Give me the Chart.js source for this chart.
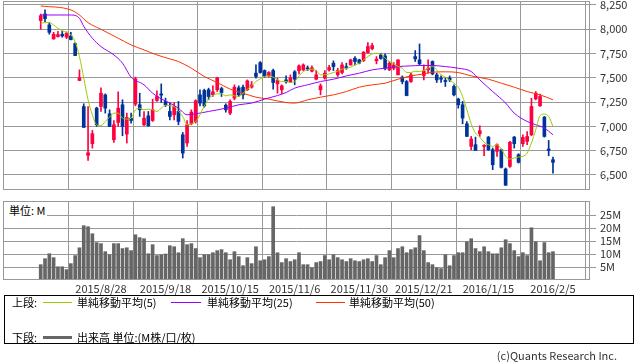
<!DOCTYPE html>
<html>
<head>
<meta charset="utf-8">
<script src="https://cdn.jsdelivr.net/npm/chart.js@4.4.1/dist/chart.umd.min.js"></script>
<style>
  body { margin: 0; width: 638px; height: 362px; background: #fff; position: relative; overflow: hidden;
         font-family: "Noto Sans CJK JP", "Noto Sans", sans-serif; font-size: 11px; color: #000; }
  canvas { position: absolute; left: 0; }
  #pc { top: 0; }
  #vc { top: 196px; }
  .t { position: absolute; line-height: 14px; white-space: nowrap; }
  .ln { position: absolute; }
  #unit { position: absolute; left: 4px; top: 202px; width: 43px; height: 16px; background: #fff;
          line-height: 16px; padding-left: 5px; box-sizing: border-box; }
  #box { position: absolute; left: 4px; top: 295px; width: 630px; height: 49px; border: 1px solid #000; box-sizing: border-box; }
</style>
</head>
<body>
<canvas id="pc" width="638" height="192"></canvas>
<canvas id="vc" width="638" height="100"></canvas>
<div id="unit">単位: M</div>

<div id="box"></div>
<div class="t" style="left:12px;top:295px">上段:</div>
<div class="ln" style="left:43px;top:302px;width:29px;height:1px;background:#99cc00"></div>
<div class="t" style="left:77px;top:295px">単純移動平均(5)</div>
<div class="ln" style="left:171px;top:302px;width:30px;height:1px;background:#9900ff"></div>
<div class="t" style="left:207px;top:295px">単純移動平均(25)</div>
<div class="ln" style="left:316px;top:302px;width:29px;height:1px;background:#ff3300"></div>
<div class="t" style="left:349px;top:295px">単純移動平均(50)</div>
<div class="t" style="left:12px;top:330px">下段:</div>
<div class="ln" style="left:43px;top:336px;width:29px;height:3px;background:#666"></div>
<div class="t" style="left:77px;top:330px">出来高 単位:(M株/口/枚)</div>
<div class="t" style="right:21px;top:348px;color:#333">(c)Quants Research Inc.</div>

<script>
// daily candles, index 0 = 2015/8/10 ... 119 = 2016/2/5
const open = [8089,8157,8045,7901,7925,7949,7918,7931,7853,7473,7205,6702,6822,7188,7205,7325,7130,6863,7041,7223,
  6921,7085,7229,7223,7017,7109,7061,7267,7335,7257,7154,7120,7154,6914,6829,7027,7051,7325,7370,7377,
  7325,7377,7390,7219,7137,7291,7397,7404,7377,7404,7548,7657,7575,7520,7575,7438,7377,7479,7459,7562,
  7575,7582,7603,7568,7486,7377,7497,7582,7651,7531,7555,7616,7633,7702,7685,7678,7760,7801,7675,7736,
  7726,7582,7599,7531,7507,7462,7462,7719,7685,7524,7582,7668,7531,7497,7473,7497,7411,7281,7223,7027,
  6794,6812,6925,6794,6890,6760,6743,6760,6562,6589,6890,6709,6822,6846,6914,7284,7212,7096,6767,6657];
const high = [8157,8199,8068,7969,7979,7979,7973,7969,7863,7582,7233,7205,6959,7198,7397,7335,7171,7061,7356,7274,
  7137,7137,7507,7342,7154,7154,7281,7366,7438,7291,7246,7246,7257,6938,7061,7171,7274,7377,7384,7394,
  7418,7507,7404,7233,7274,7428,7418,7425,7479,7462,7633,7668,7582,7565,7589,7497,7428,7520,7531,7575,
  7633,7644,7623,7623,7575,7438,7575,7630,7675,7599,7657,7651,7692,7719,7692,7771,7863,7856,7719,7753,
  7747,7668,7657,7685,7520,7473,7548,7781,7849,7634,7685,7675,7548,7520,7497,7520,7428,7291,7257,7051,
  6897,6890,7007,6812,6897,6777,6822,6767,6572,6846,6897,6719,6914,6948,7291,7359,7332,7103,6856,6685];
const low = [8000,8079,7949,7897,7918,7918,7904,7890,7729,7470,6990,6650,6777,7000,7154,7137,7000,6836,7000,6904,
  6829,7034,7212,7103,7007,7000,7051,7257,7246,7205,7068,7068,7017,6675,6794,7017,7034,7212,7198,7274,
  7308,7359,7308,7147,7120,7274,7308,7284,7370,7394,7497,7548,7507,7507,7384,7342,7335,7445,7452,7428,
  7541,7575,7575,7562,7479,7325,7486,7568,7575,7514,7541,7589,7630,7633,7644,7668,7753,7788,7644,7692,
  7582,7575,7582,7531,7438,7315,7452,7668,7633,7479,7548,7531,7452,7452,7411,7462,7315,7188,7027,6897,
  6760,6753,6897,6698,6753,6555,6692,6572,6394,6579,6777,6623,6794,6812,6904,7274,7205,6890,6698,6520];
const close = [8140,8110,7969,7949,7945,7931,7959,7894,7729,7500,6990,6729,6925,7017,7342,7188,7000,7017,7188,7000,
  7092,7061,7490,7171,7085,7007,7171,7308,7322,7223,7103,7205,7051,6726,7017,7147,7264,7240,7212,7308,
  7356,7500,7349,7171,7257,7404,7325,7325,7469,7428,7514,7555,7520,7555,7452,7473,7418,7459,7500,7486,
  7623,7633,7592,7603,7531,7418,7548,7606,7616,7575,7633,7603,7685,7668,7651,7764,7822,7832,7692,7699,
  7599,7651,7633,7685,7462,7318,7531,7695,7644,7572,7599,7541,7479,7486,7462,7479,7325,7223,7086,6897,
  6870,6753,6955,6805,6760,6606,6812,6579,6394,6836,6822,6630,6887,6897,7205,7342,7308,6897,6753,6630];
// volume, millions
const volume = [5.9,8.2,10.1,8.6,5.1,5.1,4.0,6.3,9.4,12.4,20.9,20.5,17.8,14.4,14.0,10.9,9.7,14.0,14.0,12.1,
  12.4,11.3,17.4,16.3,15.9,10.1,13.6,9.4,9.7,10.0,13.2,12.8,10.5,15.9,13.6,14.0,12.1,8.6,9.7,9.7,
  10.5,11.3,11.7,10.5,7.8,10.9,9.0,5.5,8.6,6.3,12.8,7.4,7.8,9.0,28.2,10.5,6.7,8.2,7.1,7.8,
  10.5,5.9,5.9,4.7,6.7,7.1,9.4,7.8,9.7,8.6,7.8,7.1,8.2,7.4,7.1,7.8,8.2,7.1,9.4,5.9,
  8.6,11.3,8.6,12.1,12.8,10.5,11.7,12.4,17.1,11.3,6.7,5.9,4.7,4.4,9.7,5.5,9.4,10.5,10.5,14.7,
  15.9,12.1,10.9,12.8,10.9,10.1,10.1,12.4,15.5,14.0,11.3,9.0,10.5,9.4,20.1,14.7,7.4,14.4,10.5,10.9];
// moving averages
const ma5 = [8062,8068,8068,8045,8010,7986,7969,7942,7873,7719,7497,7274,7120,7017,7007,7051,7096,7137,7137,7085,
  7075,7085,7171,7188,7171,7178,7171,7154,7188,7218,7212,7205,7154,7103,7017,7027,7051,7120,7212,7281,
  7318,7335,7335,7315,7325,7315,7308,7342,7384,7418,7462,7490,7514,7520,7507,7479,7462,7462,7452,7462,
  7520,7565,7582,7589,7575,7531,7531,7541,7555,7568,7589,7599,7610,7633,7651,7685,7719,7747,7753,7747,
  7702,7668,7644,7616,7599,7555,7555,7568,7565,7575,7599,7616,7582,7531,7507,7479,7445,7404,7308,7171,
  7027,6931,6890,6836,6812,6794,6812,6767,6692,6664,6675,6685,6692,6726,6829,6966,7110,7127,7103,6999];
const ma25Day = [0,7,9,10,12,14,17,19,21,24,26,28,30,32,34,36,39,43,46,49,52,55,57,59,62,65,68,71,74,77,80,83,86,88,91,94,97,100,102,105,108,110,113,115,117,119];
const ma25 = [8147,8147,8113,8030,7908,7822,7736,7651,7507,7428,7342,7284,7240,7188,7120,7130,7154,7188,7223,7240,7281,7318,7349,7394,7428,7462,7486,7520,7548,7582,7599,7616,7623,7627,7627,7616,7599,7565,7479,7359,7240,7137,7051,7017,6983,6914];
const ma50Day = [0,7,9,11,14,18,21,24,27,30,32,35,38,41,44,47,50,53,57,59,62,65,68,71,74,77,80,83,86,89,91,94,97,100,104,107,110,113,116,119];
const ma50 = [8240,8199,8147,8068,8000,7908,7839,7788,7736,7695,7668,7599,7514,7452,7384,7342,7301,7281,7246,7240,7274,7301,7325,7359,7404,7428,7445,7486,7520,7541,7558,7562,7555,7520,7486,7445,7404,7359,7325,7274];

const tickDay = [14,29,44,59,74,89,104,119];
const tickLabels = ['2015/8/28','2015/9/18','2015/10/15','2015/11/6','2015/11/30','2015/12/21','2016/1/15','2016/2/5'];
const priceTicks = [6500,6750,7000,7250,7500,7750,8000,8250];
const volTicks = [5,10,15,20,25];

const UP = '#ff0040', DOWN = '#003399', GRID = '#999';
const FONT = { family: '"Noto Sans CJK JP", "Noto Sans", sans-serif', size: 11 };
const xMin = -8.76, xMax = 127.6;

const frame = {
  id: 'frame',
  afterDatasetsDraw(chart) {
    const a = chart.chartArea, ctx = chart.ctx;
    ctx.save();
    ctx.strokeStyle = GRID;
    ctx.lineWidth = 1;
    ctx.strokeRect(Math.round(a.left) + 0.5, Math.round(a.top) + 0.5,
      Math.round(a.right - a.left) - 1, Math.round(a.bottom - a.top) - 1);
    ctx.restore();
  }
};

// keep tick labels from pushing the plot area around
function noPad(s) {
  s.paddingTop = 0; s.paddingBottom = 0; s.paddingLeft = 0; s.paddingRight = 0;
}

function xScale(showLabels) {
  return {
    type: 'linear', min: xMin, max: xMax, offset: false,
    afterBuildTicks: s => { s.ticks = tickDay.map(v => ({ value: v })); },
    afterFit: s => { s.height = showLabels ? 16 : 0; noPad(s); },
    grid: { color: GRID, drawTicks: false },
    border: { display: false },
    ticks: { display: showLabels, autoSkip: false, maxRotation: 0, padding: 2, color: '#333', font: FONT,
             callback: (v, i) => tickLabels[i] }
  };
}

const candleColor = open.map((o, i) => close[i] >= o ? UP : DOWN);
const line = (xs, ys, color) => ({
  type: 'line', data: ys.map((v, i) => ({ x: xs ? xs[i] : i, y: v })),
  borderColor: color, borderWidth: 1, pointRadius: 0, cubicInterpolationMode: 'monotone', order: 0
});

new Chart(document.getElementById('pc'), {
  type: 'bar',
  data: {
    datasets: [
      line(null, ma5, '#99cc00'),
      line(ma25Day, ma25, '#9900ff'),
      line(ma50Day, ma50, '#ff3300'),
      { data: open.map((o, i) => ({ x: i, y: [low[i], high[i]] })), backgroundColor: candleColor,
        barThickness: 1, grouped: false, order: 2 },
      { data: open.map((o, i) => ({ x: i, y: [o, close[i]] })), backgroundColor: candleColor,
        barThickness: 3, minBarLength: 1, grouped: false, order: 1 }
    ]
  },
  options: {
    responsive: false, animation: false,
    layout: { padding: { left: 3, top: 1, bottom: 2, right: 0 } },
    plugins: { legend: { display: false }, tooltip: { enabled: false } },
    scales: {
      x: xScale(false),
      y: {
        position: 'right', min: 6345.6, max: 8291,
        afterBuildTicks: s => { s.ticks = priceTicks.map(v => ({ value: v })); },
        afterFit: s => { s.width = 48; noPad(s); },
        grid: { color: GRID, tickLength: 6 },
        border: { display: false },
        ticks: { padding: 4, color: '#333', font: FONT, callback: v => v.toLocaleString('en-US') }
      }
    }
  },
  plugins: [frame]
});

new Chart(document.getElementById('vc'), {
  type: 'bar',
  data: {
    datasets: [
      { data: volume.map((v, i) => ({ x: i, y: v })), backgroundColor: '#666', barThickness: 3, grouped: false }
    ]
  },
  options: {
    responsive: false, animation: false,
    layout: { padding: { left: 3, top: 5, bottom: 0, right: 0 } },
    plugins: { legend: { display: false }, tooltip: { enabled: false } },
    scales: {
      x: xScale(true),
      y: {
        position: 'right', min: 0, max: 30.4,
        afterBuildTicks: s => { s.ticks = volTicks.map(v => ({ value: v })); },
        afterFit: s => { s.width = 48; noPad(s); },
        grid: { color: GRID, tickLength: 6 },
        border: { display: false },
        ticks: { padding: 4, color: '#333', font: FONT, callback: v => v + 'M' }
      }
    }
  },
  plugins: [frame]
});
</script>
</body>
</html>
